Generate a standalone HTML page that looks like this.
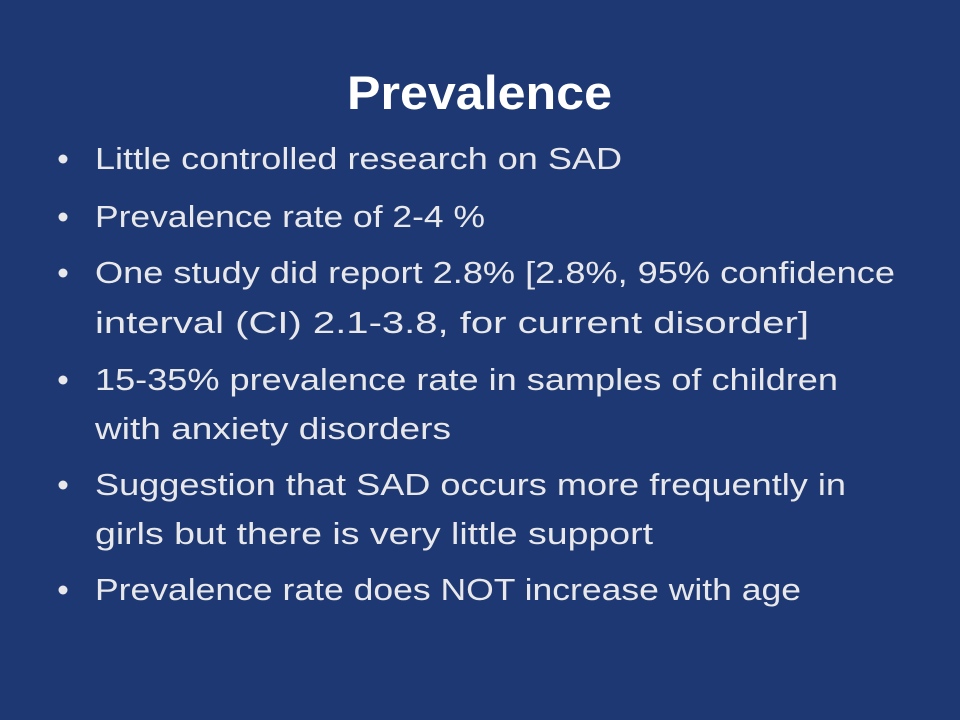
<!DOCTYPE html>
<html><head><meta charset="utf-8"><style>
html,body{margin:0;padding:0;background:#1d3872;}
svg{display:block}
</style></head><body>
<svg width="960" height="720" viewBox="0 0 960 720" xmlns="http://www.w3.org/2000/svg">
<rect width="960" height="720" fill="#1d3872"/>
<text x="347" y="109" font-family="Liberation Sans, sans-serif" font-weight="bold" font-size="47" fill="#ffffff" textLength="265" lengthAdjust="spacingAndGlyphs">Prevalence</text>
<g font-family="Liberation Sans, sans-serif" font-size="31" fill="#e8e8ea">
<circle cx="63" cy="159" r="4.5"/>
<text x="95" y="169" textLength="527" lengthAdjust="spacingAndGlyphs">Little controlled research on SAD</text>
<circle cx="63" cy="217" r="4.5"/>
<text x="95" y="227" textLength="390" lengthAdjust="spacingAndGlyphs">Prevalence rate of 2-4 %</text>
<circle cx="63" cy="273" r="4.5"/>
<text x="95" y="283" textLength="800" lengthAdjust="spacingAndGlyphs">One study did report 2.8% [2.8%, 95% confidence</text>
<text x="95" y="333" textLength="714" lengthAdjust="spacingAndGlyphs">interval (CI) 2.1-3.8, for current disorder]</text>
<circle cx="63" cy="380" r="4.5"/>
<text x="95" y="390" textLength="743" lengthAdjust="spacingAndGlyphs">15-35% prevalence rate in samples of children</text>
<text x="95" y="439" textLength="356" lengthAdjust="spacingAndGlyphs">with anxiety disorders</text>
<circle cx="63" cy="485" r="4.5"/>
<text x="95" y="495" textLength="751" lengthAdjust="spacingAndGlyphs">Suggestion that SAD occurs more frequently in</text>
<text x="95" y="544" textLength="558" lengthAdjust="spacingAndGlyphs">girls but there is very little support</text>
<circle cx="63" cy="590" r="4.5"/>
<text x="95" y="600" textLength="706" lengthAdjust="spacingAndGlyphs">Prevalence rate does NOT increase with age</text>
</g>
</svg>
</body></html>
